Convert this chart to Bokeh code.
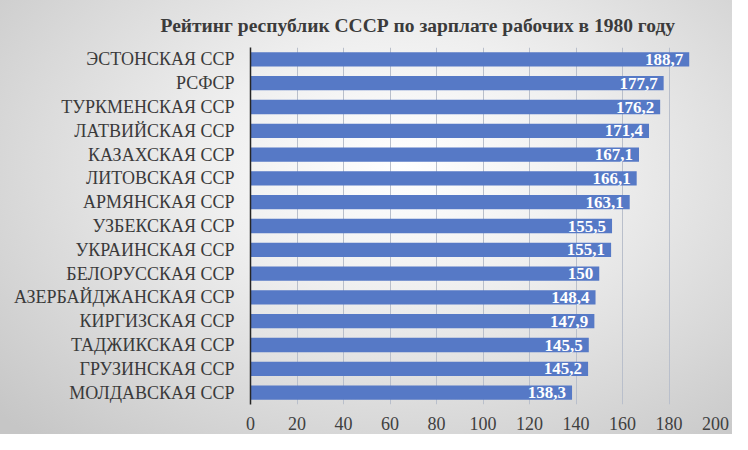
from bokeh.plotting import figure
from bokeh.models import FactorRange, Range1d, FixedTicker, ColumnDataSource
from bokeh.core.properties import value
from bokeh.embed import file_html
from bokeh.resources import INLINE

categories = ["ЭСТОНСКАЯ ССР", "РСФСР", "ТУРКМЕНСКАЯ ССР", "ЛАТВИЙСКАЯ ССР",
              "КАЗАХСКАЯ ССР", "ЛИТОВСКАЯ ССР", "АРМЯНСКАЯ ССР", "УЗБЕКСКАЯ ССР",
              "УКРАИНСКАЯ ССР", "БЕЛОРУССКАЯ ССР", "АЗЕРБАЙДЖАНСКАЯ ССР",
              "КИРГИЗСКАЯ ССР", "ТАДЖИКСКАЯ ССР", "ГРУЗИНСКАЯ ССР", "МОЛДАВСКАЯ ССР"]
values = [188.7, 177.7, 176.2, 171.4, 167.1, 166.1, 163.1, 155.5,
          155.1, 150, 148.4, 147.9, 145.5, 145.2, 138.3]
x_ticks = [0, 20, 40, 60, 80, 100, 120, 140, 160, 180, 200]
title_text = "Рейтинг республик СССР по зарплате рабочих в 1980 году"

labels = [("%g" % v).replace(".", ",") for v in values]
src = ColumnDataSource(dict(cat=categories, val=values, lab=labels))

SERIF = "Liberation Serif"

p = figure(width=732, height=434, output_backend="svg", toolbar_location=None,
           y_range=FactorRange(factors=list(reversed(categories)), range_padding=0),
           x_range=Range1d(0, 200),
           min_border_left=250, min_border_right=17, min_border_top=46, min_border_bottom=30,
           title=title_text)

p.styles = {"background": "radial-gradient(ellipse 75% 85% at 55% 38%, #ffffff 0%, #efefef 35%, #d9d9d9 70%, #c6c6c6 100%)"}
p.background_fill_color = None
p.border_fill_color = None
p.outline_line_color = None

p.title.text_font = SERIF
p.title.text_font_size = "19.5px"
p.title.text_font_style = "bold"
p.title.text_color = "#3b3b3b"
p.title.text_line_height = 0.85
p.title.align = "left"
p.title.offset = -90
p.title.standoff = 24

p.hbar(y="cat", right="val", left=0, height=0.6, source=src,
       fill_color="#5679c6", line_color=None)
p.text(x="val", y="cat", text="lab", source=src, x_offset=-6,
       text_align="right", text_baseline="middle", text_color="white",
       text_font=value(SERIF), text_font_style="bold", text_font_size="17px")

p.xaxis.ticker = FixedTicker(ticks=x_ticks)
p.xaxis.axis_line_color = None
p.xaxis.major_tick_line_color = None
p.xaxis.minor_tick_line_color = None
p.xaxis.major_label_text_font = SERIF
p.xaxis.major_label_text_font_size = "18px"
p.xaxis.major_label_text_color = "#404040"
p.xaxis.major_label_standoff = 6

p.yaxis.axis_line_color = "#262626"
p.yaxis.axis_line_width = 1.5
p.yaxis.major_tick_line_color = None
p.yaxis.minor_tick_line_color = None
p.yaxis.major_label_text_font = SERIF
p.yaxis.major_label_text_font_size = "18px"
p.yaxis.major_label_text_color = "#3a3a3a"
p.yaxis.major_label_standoff = 10

p.ygrid.grid_line_color = None
p.xgrid.grid_line_color = "#b9bfcb"
p.xgrid.grid_line_width = 1

open("out.html", "w").write(file_html(p, INLINE))
